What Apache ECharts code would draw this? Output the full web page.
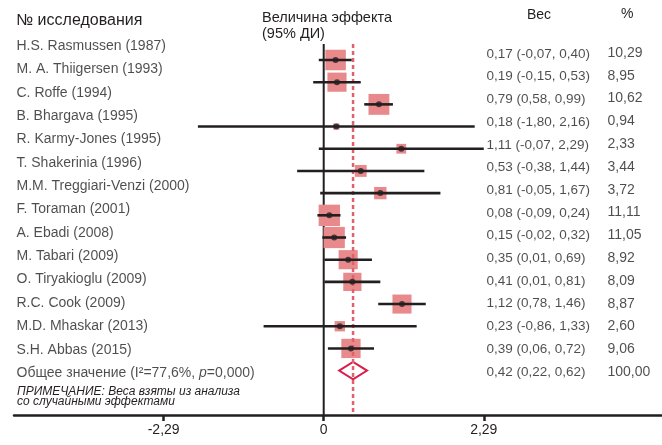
<!DOCTYPE html>
<html><head><meta charset="utf-8">
<script src="https://cdn.jsdelivr.net/npm/echarts@6/dist/echarts.min.js"></script>
<style>html,body{margin:0;padding:0;background:#fff}#c{width:662px;height:445px}</style>
</head><body><div id="c"></div>
<script>
const studies = ['H.S. Rasmussen (1987)', 'M. A. Thiigersen (1993)', 'C. Roffe (1994)', 'B. Bhargava (1995)', 'R. Karmy-Jones (1995)', 'T. Shakerinia (1996)', 'M.M. Treggiari-Venzi (2000)', 'F. Toraman (2001)', 'A. Ebadi (2008)', 'M. Tabari (2009)', 'O. Tiryakioglu (2009)', 'R.C. Cook (2009)', 'M.D. Mhaskar (2013)', 'S.H. Abbas (2015)'];
const effect = [0.17, 0.19, 0.79, 0.18, 1.11, 0.53, 0.81, 0.08, 0.15, 0.35, 0.41, 1.12, 0.23, 0.39];
const lower  = [-0.07, -0.15, 0.58, -1.80, -0.07, -0.38, -0.05, -0.09, -0.02, 0.01, 0.01, 0.78, -0.86, 0.06];
const upper  = [0.40, 0.53, 0.99, 2.16, 2.29, 1.44, 1.67, 0.24, 0.32, 0.69, 0.81, 1.46, 1.33, 0.72];
const weights = [10.29, 8.95, 10.62, 0.94, 2.33, 3.44, 3.72, 11.11, 11.05, 8.92, 8.09, 8.87, 2.60, 9.06];
const overallName = 'Общее значение';
const overallI2 = '77,6%';
const overallP = '0,000';
const overallEffect = 0.42, overallLower = 0.22, overallUpper = 0.62, overallWeight = 100.00;
const xTicks = [-2.29, 0, 2.29];

const FONT = '"Liberation Sans", Arial, sans-serif';
const TXT = '#231f20';
const fmt = v => v.toFixed(2).replace('.', ',');
const n = studies.length;

const chart = echarts.init(document.getElementById('c'), null, {renderer: 'canvas'});

const hiddenX = g => ({type: 'value', gridIndex: g, min: 0, max: 1, show: false});
const hiddenY = g => ({type: 'value', gridIndex: g, min: -0.5, max: 14.5, inverse: true, show: false});

const nameData = studies.map((s, i) => [0, i, s]).concat([[0, n, '__overall']]);
const ciData = effect.map((e, i) => [0, i, `${fmt(e)} (${fmt(lower[i])}, ${fmt(upper[i])})`])
  .concat([[0, n, `${fmt(overallEffect)} (${fmt(overallLower)}, ${fmt(overallUpper)})`]]);
const pctData = weights.map((w, i) => [0, i, fmt(w)]).concat([[0, n, fmt(overallWeight)]]);

const textLabel = (size) => ({
  show: true, position: 'right', distance: 0, color: TXT, fontSize: size, fontFamily: FONT,
  formatter: p => p.value[2]
});

chart.setOption({
  animation: false,
  grid: [
    {left: 14, right: 0, top: 44, height: 371},
    {left: 16, width: 10, top: 34.3, height: 350.4},
    {left: 486, width: 10, top: 42.65, height: 340.5},
    {left: 607, width: 10, top: 41.6, height: 342}
  ],
  xAxis: [
    {type: 'value', gridIndex: 0, min: -4.431, max: 4.840,
     splitLine: {show: false},
     axisLine: {show: true, onZero: false, lineStyle: {color: TXT, width: 2.5}},
     axisTick: {show: true, customValues: xTicks, length: 6, lineStyle: {color: TXT, width: 2.5}},
     axisLabel: {customValues: xTicks, margin: 8, fontSize: 14, color: TXT, fontFamily: FONT,
       formatter: v => Math.abs(v) < 1e-9 ? '0' : fmt(v)}},
    hiddenX(1), hiddenX(2), hiddenX(3)
  ],
  yAxis: [
    {type: 'value', gridIndex: 0, min: -0.721, max: 16.0, inverse: true, show: false},
    hiddenY(1), hiddenY(2), hiddenY(3)
  ],
  graphic: [
    {type: 'text', left: 16, top: 13, style: {text: '№ исследования', font: `16px ${FONT}`, fill: TXT}},
    {type: 'text', left: 262, top: 10, style: {text: 'Величина эффекта', font: `14.5px ${FONT}`, fill: TXT}},
    {type: 'text', left: 262, top: 26, style: {text: '(95% ДИ)', font: `14.5px ${FONT}`, fill: TXT}},
    {type: 'text', left: 527, top: 8, style: {text: 'Вес', font: `14px ${FONT}`, fill: TXT}},
    {type: 'text', left: 621, top: 7, style: {text: '%', font: `14px ${FONT}`, fill: TXT}},
    {type: 'text', left: 17, top: 386, style: {text: 'ПРИМЕЧАНИЕ: Веса взяты из анализа', font: `italic 12px ${FONT}`, fill: TXT}},
    {type: 'text', left: 17, top: 396, style: {text: 'со случайными эффектами', font: `italic 12px ${FONT}`, fill: TXT}}
  ],
  series: [
    {type: 'line', xAxisIndex: 0, yAxisIndex: 0, symbol: 'none', z: 1,
     data: [[0, -0.721], [0, 16]], lineStyle: {color: TXT, width: 2}},
    {type: 'scatter', xAxisIndex: 0, yAxisIndex: 0, symbol: 'rect', z: 2,
     data: effect.map((e, i) => [e, i, weights[i]]),
     symbolSize: v => 6.4 * Math.sqrt(v[2]),
     itemStyle: {color: '#e8898b', opacity: 1}},
    {type: 'custom', xAxisIndex: 0, yAxisIndex: 0, z: 3,
     data: [[overallLower, overallEffect, overallUpper, n]],
     encode: {x: [0, 1, 2], y: 3},
     renderItem: (params, api) => {
       const l = api.coord([api.value(0), api.value(3)]);
       const c = api.coord([api.value(1), api.value(3)]);
       const r = api.coord([api.value(2), api.value(3)]);
       const h = 8.8;
       return {type: 'polygon', shape: {points: [[l[0], l[1]], [c[0], c[1] - h], [r[0], r[1]], [c[0], c[1] + h]]},
               style: {fill: '#fff', stroke: '#d81e4b', lineWidth: 2}};
     }},
    {type: 'line', xAxisIndex: 0, yAxisIndex: 0, symbol: 'none', z: 4,
     data: [[overallEffect, -0.721], [overallEffect, 16]],
     lineStyle: {color: '#e2606c', width: 2.5, type: [4, 3]}},
    {type: 'custom', xAxisIndex: 0, yAxisIndex: 0, z: 5,
     data: lower.map((l, i) => [l, upper[i], i]),
     encode: {x: [0, 1], y: 2},
     renderItem: (params, api) => {
       const a = api.coord([api.value(0), api.value(2)]);
       const b = api.coord([api.value(1), api.value(2)]);
       return {type: 'line', shape: {x1: a[0], y1: a[1], x2: b[0], y2: b[1]},
               style: {stroke: TXT, lineWidth: 2.6}};
     }},
    {type: 'scatter', xAxisIndex: 0, yAxisIndex: 0, symbol: 'circle', symbolSize: 6, z: 6,
     data: effect.map((e, i) => [e, i]), itemStyle: {color: TXT}},
    {type: 'scatter', xAxisIndex: 1, yAxisIndex: 1, symbolSize: 1, itemStyle: {color: 'rgba(0,0,0,0)'},
     data: nameData,
     label: {show: true, position: 'right', distance: 0, color: TXT, fontSize: 14, fontFamily: FONT,
       formatter: p => p.value[2] === '__overall'
         ? `{n|${overallName} (I²=${overallI2}, }{i|p}{n|=${overallP})}`
         : `{n|${p.value[2]}}`,
       rich: {n: {fontSize: 14, fontFamily: FONT, color: TXT},
              i: {fontSize: 14, fontFamily: FONT, color: TXT, fontStyle: 'italic'}}}},
    {type: 'scatter', xAxisIndex: 2, yAxisIndex: 2, symbolSize: 1, itemStyle: {color: 'rgba(0,0,0,0)'},
     data: ciData, label: textLabel(13.5)},
    {type: 'scatter', xAxisIndex: 3, yAxisIndex: 3, symbolSize: 1, itemStyle: {color: 'rgba(0,0,0,0)'},
     data: pctData, label: textLabel(14)}
  ]
});
</script>
</body></html>
